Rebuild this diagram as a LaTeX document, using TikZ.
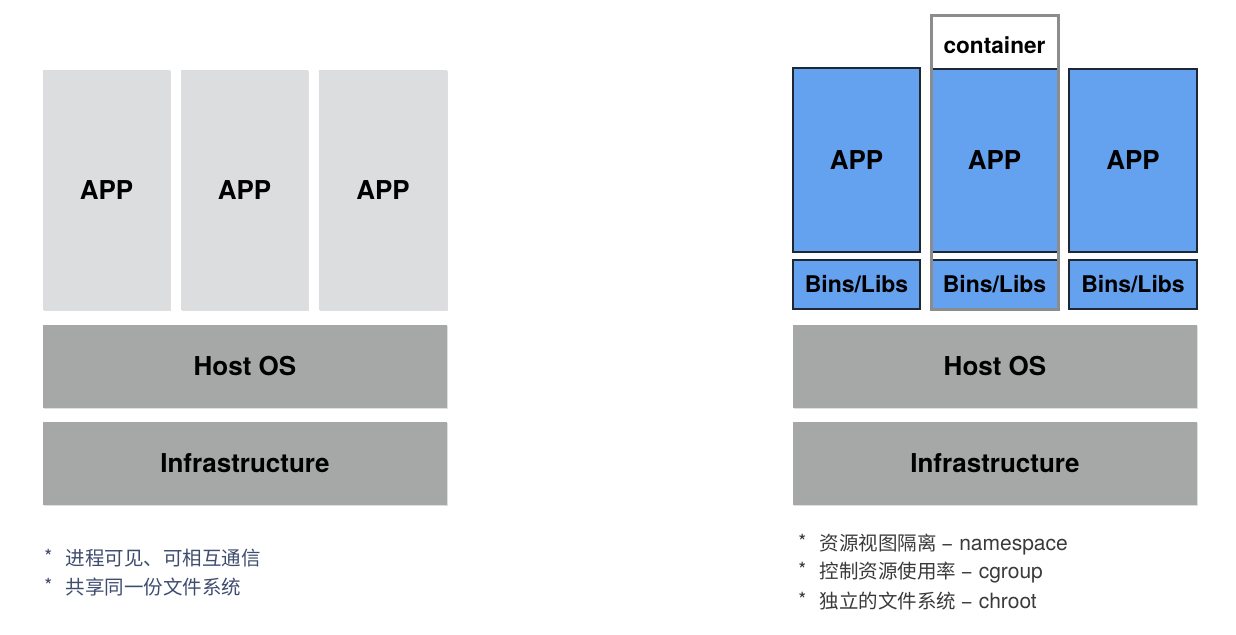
\documentclass[tikz,border=0pt]{standalone}
\usepackage{fontspec}
\setmainfont{TeX Gyre Heros}
\newfontfamily\cjk{Noto Sans CJK SC}
\usetikzlibrary{fit,shadows}
\definecolor{lgray}{HTML}{DCDDDF}
\definecolor{dgray}{HTML}{A6A7A7}
\definecolor{appblue}{HTML}{64A2F0}
\definecolor{bord}{HTML}{1E2733}
\definecolor{contgray}{HTML}{8A8C8E}
\definecolor{bulletblue}{HTML}{3E4C6E}
\definecolor{bulletgray}{HTML}{3A3A3A}
\tikzset{
  bigtext/.style={inner sep=0pt, font=\bfseries\fontsize{13pt}{15pt}\selectfont, text=black},
  midtext/.style={inner sep=0pt, font=\bfseries\fontsize{11.5pt}{13pt}\selectfont, text=black},
  lgbox/.style={inner sep=0pt, fill=lgray, drop shadow={shadow xshift=0.4pt, shadow yshift=-0.6pt, opacity=0.25}, label={[bigtext]center:#1}},
  dgbox/.style={inner sep=0pt, fill=dgray, drop shadow={shadow xshift=0.4pt, shadow yshift=-0.6pt, opacity=0.25}, label={[bigtext]center:#1}},
  bluebox/.style={inner sep=0pt, fill=appblue, draw=bord, line width=1pt, label={[bigtext]center:#1}},
  binsbox/.style={inner sep=0pt, fill=appblue, draw=bord, line width=1pt, label={[midtext]center:#1}},
  contbox/.style={inner sep=0pt, draw=contgray, line width=1.5pt},
  contlabel/.style={inner sep=0pt, fill=white, label={[inner sep=0pt, yshift=-1.5pt, font=\bfseries\fontsize{11.3pt}{13pt}\selectfont]center:#1}},
  bullet/.style={anchor=west, inner sep=0pt, font=\cjk\fontsize{9.75pt}{11pt}\selectfont},
}
\newcommand{\lat}[1]{{\rmfamily\mdseries\fontsize{10.5pt}{12pt}\selectfont #1}}
\begin{document}
\begin{tikzpicture}[x=0.5pt,y=-0.5pt]
\useasboundingbox (0,0) rectangle (1236,634);
% ---------- left ----------
\node[lgbox=APP, fit={(43,70)(170,310)}] (la1) {};
\node[lgbox=APP, fit={(181,70)(308,310)}] (la2) {};
\node[lgbox=APP, fit={(319,70)(447,310)}] (la3) {};
\node[dgbox=Host OS, fit={(43,325)(447,408)}] (lhost) {};
\node[dgbox=Infrastructure, fit={(43,422)(447,505)}] (linfra) {};
\node[bullet, text=bulletblue] (lb1) at (44,558) {\raisebox{1pt}{\small *}\hspace{6.5pt}进程可见、可相互通信};
\node[bullet, text=bulletblue] (lb2) at (44,587) {\raisebox{1pt}{\small *}\hspace{6.5pt}共享同一份文件系统};
% ---------- right ----------
\node[contlabel=container, fit={(931,15)(1058,69)}] (clabel) {};
\node[bluebox=APP, fit={(793,68)(920,252)}] (ra1) {};
\node[bluebox=APP, fit={(931,69)(1058,252)}] (ra2) {};
\node[bluebox=APP, fit={(1069,69)(1197,252)}] (ra3) {};
\node[binsbox=Bins/Libs, fit={(793,260)(920,309)}] (rb1) {};
\node[binsbox=Bins/Libs, fit={(931,260)(1058,309)}] (rb2) {};
\node[binsbox=Bins/Libs, fit={(1069,260)(1197,309)}] (rb3) {};
\node[contbox, fit={(931,15)(1058,309)}] (cont) {};
\node[dgbox=Host OS, fit={(793,325)(1197,408)}] (rhost) {};
\node[dgbox=Infrastructure, fit={(793,422)(1197,505)}] (rinfra) {};
\node[bullet, text=bulletgray] (rb1t) at (798,545) {\raisebox{1pt}{\small *}\hspace{6.5pt}资源视图隔离 \lat{− namespace}};
\node[bullet, text=bulletgray] (rb2t) at (798,573) {\raisebox{1pt}{\small *}\hspace{6.5pt}控制资源使用率 \lat{− cgroup}};
\node[bullet, text=bulletgray] (rb3t) at (798,601) {\raisebox{1pt}{\small *}\hspace{6.5pt}独立的文件系统 \lat{− chroot}};
\end{tikzpicture}
\end{document}
